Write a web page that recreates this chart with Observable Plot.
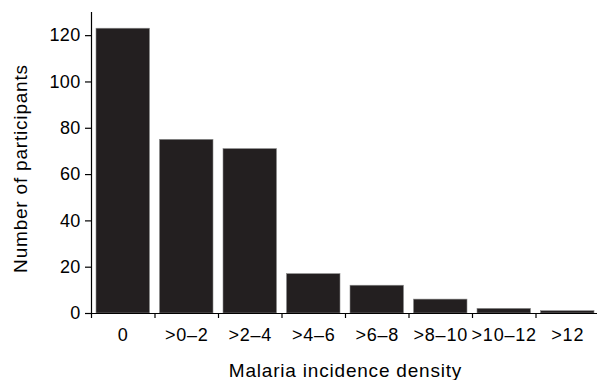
<!DOCTYPE html>
<html>
<head>
<meta charset="utf-8">
<script src="https://cdn.jsdelivr.net/npm/d3@7"></script>
<script src="https://cdn.jsdelivr.net/npm/@observablehq/plot@0.6"></script>
<style>
  html, body { margin: 0; padding: 0; background: #fff; }
  #chart svg { display: block; }
  g[aria-label="text"] text { letter-spacing: 0.8px; }
  g[aria-label="y-axis tick label"] text { letter-spacing: 0.3px; }
</style>
</head>
<body>
<div id="chart"></div>
<script>
const categories = ["0", ">0–2", ">2–4", ">4–6", ">6–8", ">8–10", ">10–12", ">12"];
const counts = [123, 75, 71, 17, 12, 6, 2, 1];
const yTicks = [0, 20, 40, 60, 80, 100, 120];
const xTitle = "Malaria incidence density";
const yTitle = "Number of participants";

const data = categories.map((c, i) => ({c, i, n: counts[i]}));
const boundaries = d3.range(categories.length + 1);

const chart = Plot.plot({
  width: 597,
  height: 380,
  marginLeft: 91,
  marginRight: -2,
  marginTop: 12,
  marginBottom: 67,
  style: {background: "#fff", color: "#000", fontFamily: "'Liberation Sans', Arial, Helvetica, sans-serif"},
  x: {domain: [0, categories.length], axis: null},
  y: {domain: [0, 130], axis: null},
  marks: [
    Plot.rectY(data, {x1: "i", x2: d => d.i + 1, y1: 0, y2: "n", insetLeft: 5, insetRight: 5, fill: "#231f20", stroke: "#8a8a8a", strokeWidth: 0.6}),
    Plot.ruleY([0], {stroke: "#000", strokeWidth: 1.2}),
    Plot.ruleX([0], {y1: 0, y2: 130, stroke: "#000", strokeWidth: 1.2}),
    Plot.axisY({ticks: yTicks, tickSize: 6, tickPadding: 5, fontSize: 18, label: null, strokeWidth: 1.2}),
    Plot.axisX({ticks: boundaries, tickSize: 5, tickFormat: () => "", label: null, strokeWidth: 1.2}),
    Plot.text(data, {x: d => d.i + 0.5, y: 0, text: "c", dy: 15, lineAnchor: "top", fontSize: 18, fill: "#000"}),
    Plot.text([xTitle], {frameAnchor: "bottom", dy: 57.5, lineAnchor: "middle", textAnchor: "middle", fontSize: 19, fill: "#000"}),
    Plot.text([yTitle], {frameAnchor: "left", rotate: -90, dx: -71, dy: 5.5, lineAnchor: "middle", textAnchor: "middle", fontSize: 19, fill: "#000"})
  ]
});
document.getElementById("chart").appendChild(chart);
</script>
</body>
</html>
